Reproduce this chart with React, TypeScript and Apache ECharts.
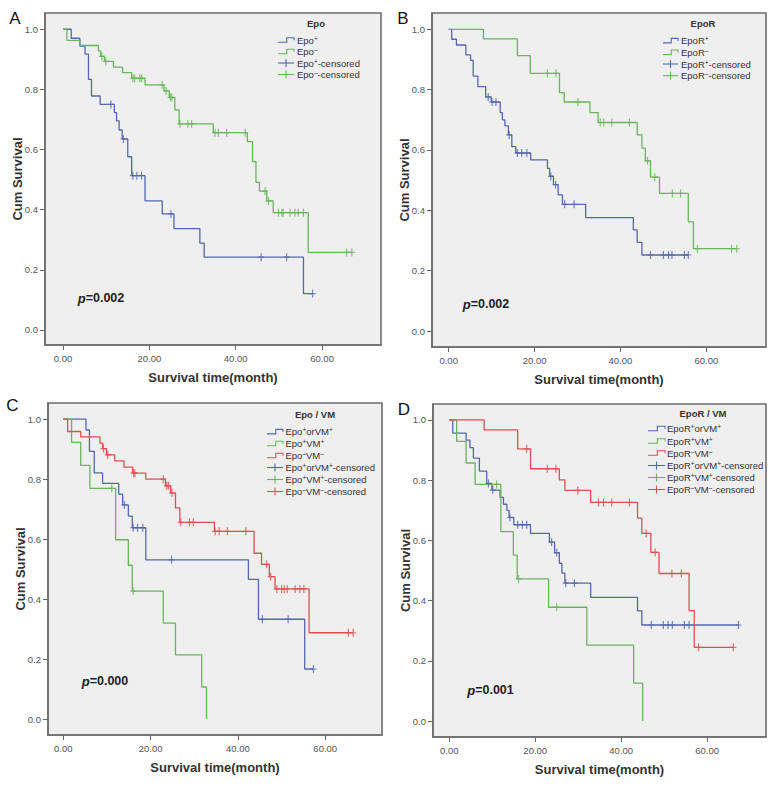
import React, { useEffect, useRef } from "react";
import * as echarts from "echarts";

// ---------- Data ----------
const xTicks = [0, 20, 40, 60];
const yTicks = [0, 0.2, 0.4, 0.6, 0.8, 1.0];

// Panel A
const epoPosTimes = [0, 1.9, 3.9, 5.1, 5.9, 6.6, 8.6, 11.9, 12.4, 13.0, 13.7, 15.0, 15.9, 19.0, 23.0, 25.7, 31.7, 32.7, 55.7];
const epoPosSurv = [1, 0.97, 0.944, 0.917, 0.833, 0.778, 0.75, 0.723, 0.695, 0.665, 0.635, 0.576, 0.513, 0.429, 0.386, 0.337, 0.289, 0.242, 0.121];
const epoPosCens = [11.1, 14.0, 16.2, 17.1, 18.2, 25.0, 45.9, 51.8, 57.8];

const epoNegTimes = [0, 0.9, 3.9, 8.2, 8.7, 9.6, 11.7, 13.8, 15.9, 19.0, 23.4, 24.6, 25.9, 26.9, 34.8, 42.7, 43.9, 44.7, 45.5, 47.2, 48.7, 56.8];
const epoNegSurv = [1, 0.963, 0.946, 0.928, 0.91, 0.893, 0.874, 0.856, 0.837, 0.815, 0.795, 0.773, 0.732, 0.685, 0.656, 0.626, 0.56, 0.491, 0.462, 0.429, 0.39, 0.258];
const epoNegCens = [9.0, 9.9, 16.2, 16.6, 17.8, 18.2, 23.0, 23.9, 24.9, 25.2, 27.1, 28.9, 29.8, 35.2, 36.0, 37.9, 42.2, 46.8, 47.6, 49.9, 50.7, 51.0, 52.6, 53.7, 54.5, 55.7, 65.7, 66.9];

// Panel B
const eporPosTimes = [0, 0.7, 1.8, 4.0, 5.1, 5.7, 6.8, 8.6, 9.9, 12.0, 12.5, 13.1, 13.9, 14.7, 15.6, 19.1, 23.0, 23.5, 24.4, 25.5, 26.5, 31.9, 43.0, 43.9, 45.0];
const eporPosSurv = [1, 0.967, 0.948, 0.915, 0.897, 0.845, 0.81, 0.776, 0.759, 0.724, 0.7, 0.68, 0.65, 0.611, 0.59, 0.567, 0.539, 0.513, 0.485, 0.451, 0.42, 0.376, 0.335, 0.294, 0.252];
const eporPosCens = [9.2, 10.1, 11.0, 14.1, 16.0, 17.0, 18.2, 23.8, 24.9, 27.0, 29.2, 47.0, 50.0, 51.2, 52.0, 54.9, 55.8];

const eporNegTimes = [0, 8.1, 16.0, 19.0, 25.8, 26.9, 32.9, 34.8, 43.9, 45.0, 45.8, 47.0, 49.1, 55.8, 57.0];
const eporNegSurv = [1, 0.968, 0.913, 0.854, 0.79, 0.759, 0.724, 0.691, 0.65, 0.606, 0.564, 0.51, 0.456, 0.362, 0.273];
const eporNegCens = [23.0, 25.0, 30.1, 35.3, 36.1, 38.0, 42.1, 46.3, 48.0, 52.1, 54.0, 57.9, 65.9, 67.1];

// Panel C
const epoOrVmTimes = [0, 5.2, 6.0, 7.1, 9.0, 12.7, 13.6, 14.9, 15.8, 18.9, 42.4, 44.7, 55.3];
const epoOrVmSurv = [1, 0.964, 0.893, 0.821, 0.786, 0.75, 0.714, 0.677, 0.638, 0.531, 0.466, 0.333, 0.167];
const epoOrVmCens = [14.0, 16.0, 17.0, 18.2, 24.8, 45.6, 51.5, 57.3];

const epoVmPosTimes = [0, 1.9, 4.0, 6.1, 12.0, 14.9, 15.8, 22.9, 25.7, 31.7, 32.8];
const epoVmPosSurv = [1, 0.923, 0.846, 0.769, 0.598, 0.513, 0.427, 0.32, 0.214, 0.107, 0];
const epoVmPosCens = [11.1, 16.0];

const epoVmNegTimes = [0, 1.0, 4.0, 8.4, 9.0, 9.9, 11.8, 13.9, 15.9, 18.9, 23.4, 24.6, 25.7, 26.7, 34.6, 43.7, 45.4, 47.2, 48.5, 56.3];
const epoVmNegSurv = [1, 0.959, 0.941, 0.92, 0.902, 0.881, 0.861, 0.84, 0.82, 0.8, 0.778, 0.754, 0.704, 0.656, 0.626, 0.553, 0.516, 0.475, 0.434, 0.288];
const epoVmNegCens = [9.2, 10.2, 16.1, 16.4, 22.9, 23.7, 24.1, 24.9, 26.9, 28.9, 29.8, 34.8, 35.7, 37.6, 41.8, 46.6, 47.5, 48.9, 50.0, 50.6, 51.3, 53.1, 54.2, 55.1, 65.3, 66.4];

// Panel D
const eporOrVmTimes = [0, 0.8, 3.9, 4.8, 5.6, 7.0, 8.7, 9.9, 11.8, 12.6, 13.4, 13.9, 15.0, 18.9, 23.3, 24.5, 25.6, 26.2, 26.9, 32.9, 43.8, 44.8];
const eporOrVmSurv = [1, 0.956, 0.933, 0.908, 0.873, 0.83, 0.789, 0.767, 0.743, 0.72, 0.7, 0.676, 0.652, 0.623, 0.594, 0.559, 0.524, 0.491, 0.458, 0.411, 0.366, 0.319];
const eporOrVmCens = [9.1, 10.1, 14.1, 15.9, 17.0, 18.0, 23.8, 25.0, 27.1, 29.1, 47.0, 49.8, 50.9, 51.9, 54.7, 55.8, 67.3];

const eporVmPosTimes = [0, 1.7, 3.9, 6.0, 12.0, 14.9, 15.8, 23.1, 32.0, 42.9, 45.0];
const eporVmPosSurv = [1, 0.929, 0.857, 0.786, 0.629, 0.551, 0.472, 0.378, 0.252, 0.126, 0];
const eporVmPosCens = [11.0, 16.1, 25.0];

const eporVmNegTimes = [0, 8.1, 15.9, 18.9, 25.6, 26.9, 32.9, 43.8, 44.8, 46.9, 48.8, 55.8, 57.0];
const eporVmNegSurv = [1, 0.967, 0.904, 0.838, 0.801, 0.766, 0.726, 0.674, 0.623, 0.56, 0.49, 0.367, 0.245];
const eporVmNegCens = [18.0, 22.8, 24.8, 29.9, 34.7, 35.9, 37.8, 41.9, 45.8, 47.9, 51.8, 54.0, 58.0, 66.1];

// ---------- Styling ----------
const BLUE = "#5468ad";
const GREEN = "#68b65a";
const RED = "#de5050";
const FONT = "Arial, 'Liberation Sans', sans-serif";

type Curve = { name: string; color: string; times: number[]; surv: number[]; cens: number[] };
type Panel = {
  letter: string; lx: number; ly: number;
  grid: { left: number; top: number; width: number; height: number };
  xr: [number, number]; yr: [number, number];
  p: string; px: number; py: number;
  title: string; tx: number; ty: number;
  ix0: number; ix1: number; textX: number; rows: number[];
  curves: Curve[];
};

const panels: Panel[] = [
  {
    letter: "A", lx: 15, ly: 18.5,
    grid: { left: 45, top: 13, width: 336, height: 332 },
    xr: [-4.17, 73.66], yr: [-0.05, 1.054],
    p: "0.002", px: 101, py: 298,
    title: "Epo", tx: 316, ty: 23,
    ix0: 278, ix1: 294, textX: 297, rows: [40, 51.5, 63, 74.5],
    curves: [
      { name: "Epo^+", color: BLUE, times: epoPosTimes, surv: epoPosSurv, cens: epoPosCens },
      { name: "Epo^-", color: GREEN, times: epoNegTimes, surv: epoNegSurv, cens: epoNegCens },
    ],
  },
  {
    letter: "B", lx: 403, ly: 18,
    grid: { left: 432, top: 13, width: 334, height: 334 },
    xr: [-3.89, 73.9], yr: [-0.053, 1.054],
    p: "0.002", px: 486, py: 304,
    title: "EpoR", tx: 703, ty: 23,
    ix0: 663, ix1: 678, textX: 681, rows: [40.7, 52.3, 64, 75.7],
    curves: [
      { name: "EpoR^+", color: BLUE, times: eporPosTimes, surv: eporPosSurv, cens: eporPosCens },
      { name: "EpoR^-", color: GREEN, times: eporNegTimes, surv: eporNegSurv, cens: eporNegCens },
    ],
  },
  {
    letter: "C", lx: 12.5, ly: 405,
    grid: { left: 48, top: 403, width: 334, height: 332 },
    xr: [-3.5, 73.0], yr: [-0.053, 1.054],
    p: "0.000", px: 105, py: 681,
    title: "Epo / VM", tx: 315, ty: 414,
    ix0: 267, ix1: 283, textX: 285.5, rows: [431.7, 443.5, 455.5, 467.5, 479.5, 491.5],
    curves: [
      { name: "Epo^+orVM^+", color: BLUE, times: epoOrVmTimes, surv: epoOrVmSurv, cens: epoOrVmCens },
      { name: "Epo^+VM^+", color: GREEN, times: epoVmPosTimes, surv: epoVmPosSurv, cens: epoVmPosCens },
      { name: "Epo^-VM^-", color: RED, times: epoVmNegTimes, surv: epoVmNegSurv, cens: epoVmNegCens },
    ],
  },
  {
    letter: "D", lx: 404, ly: 409,
    grid: { left: 433, top: 404, width: 333, height: 333 },
    xr: [-3.8, 73.7], yr: [-0.053, 1.053],
    p: "0.001", px: 490.5, py: 690,
    title: "EpoR / VM", tx: 703, ty: 413,
    ix0: 648, ix1: 665, textX: 667, rows: [428.5, 441, 453, 465.5, 477.5, 489.5],
    curves: [
      { name: "EpoR^+orVM^+", color: BLUE, times: eporOrVmTimes, surv: eporOrVmSurv, cens: eporOrVmCens },
      { name: "EpoR^+VM^+", color: GREEN, times: eporVmPosTimes, surv: eporVmPosSurv, cens: eporVmPosCens },
      { name: "EpoR^-VM^-", color: RED, times: eporVmNegTimes, surv: eporVmNegSurv, cens: eporVmNegCens },
    ],
  },
];

// value of the KM step function at time t
function survAt(c: Curve, t: number) {
  let v = c.surv[0];
  for (let i = 0; i < c.times.length; i++) if (c.times[i] <= t + 1e-9) v = c.surv[i];
  return v;
}
function lineData(c: Curve) {
  const d = c.times.map((t, i) => [t, c.surv[i]]);
  const lastT = c.times[c.times.length - 1];
  const lastC = c.cens.length ? Math.max(...c.cens) : lastT;
  if (lastC > lastT) d.push([lastC, c.surv[c.surv.length - 1]]);
  return d;
}
// "Epo^+" -> rich text with superscripts
function richLabel(s: string) {
  let out = "";
  let buf = "";
  for (let i = 0; i < s.length; i++) {
    if (s[i] === "^" && i + 1 < s.length) {
      if (buf) { out += `{n|${buf}}`; buf = ""; }
      out += `{s|${s[i + 1] === "-" ? "\u2012" : s[i + 1]}}`;
      i++;
    } else buf += s[i];
  }
  if (buf) out += `{n|${buf}}`;
  return out;
}
const plainName = (s: string) => s.replace(/\^\+/g, "\u207A").replace(/\^-/g, "\u207B");

const PLUS = "path://M2.4,0H3.6V3.4H6V4.6H3.6V8H2.4V4.6H0V3.4H2.4Z";

export default function App() {
  const ref = useRef<HTMLDivElement>(null);
  useEffect(() => {
    if (!ref.current) return;
    const chart = echarts.init(ref.current, undefined, { renderer: "svg" });

    const grids: any[] = [];
    const xAxes: any[] = [];
    const yAxes: any[] = [];
    const series: any[] = [];
    const graphics: any[] = [];

    panels.forEach((p, pi) => {
      grids.push({
        ...p.grid, show: true, backgroundColor: "#efefef", borderColor: "#6e6e6e", borderWidth: 1.6,
        containLabel: false, outerBoundsMode: "none",
      });
      xAxes.push({
        type: "value", gridIndex: pi, min: p.xr[0], max: p.xr[1],
        axisLine: { show: true, onZero: false, lineStyle: { color: "#6e6e6e", width: 1.6 } },
        axisTick: { show: true, length: 5, customValues: xTicks, lineStyle: { color: "#666" } },
        axisLabel: { show: true, customValues: xTicks, margin: 8, fontSize: 9.5, color: "#555", fontFamily: FONT,
          formatter: (v: number) => v.toFixed(2) },
        splitLine: { show: false },
        name: "Survival time(month)", nameLocation: "middle", nameGap: 26, nameMoveOverlap: false,
        nameTextStyle: { fontWeight: "bold", fontSize: 13, color: "#333", fontFamily: FONT },
      });
      yAxes.push({
        type: "value", gridIndex: pi, min: p.yr[0], max: p.yr[1],
        axisLine: { show: true, onZero: false, lineStyle: { color: "#6e6e6e", width: 1.6 } },
        axisTick: { show: true, length: 5, customValues: yTicks, lineStyle: { color: "#666" } },
        axisLabel: { show: true, customValues: yTicks, margin: 7, fontSize: 9.5, color: "#555", fontFamily: FONT,
          formatter: (v: number) => v.toFixed(1) },
        splitLine: { show: false },
        name: "Cum Survival", nameLocation: "middle", nameGap: 21, nameMoveOverlap: false,
        nameTextStyle: { fontWeight: "bold", fontSize: 13, color: "#333", fontFamily: FONT },
      });

      p.curves.forEach((c) => {
        series.push({
          type: "line", name: plainName(c.name), xAxisIndex: pi, yAxisIndex: pi, step: "end",
          data: lineData(c), showSymbol: false, symbol: "none",
          lineStyle: { color: c.color, width: 1.3 }, itemStyle: { color: c.color }, z: 3,
        });
      });
      p.curves.forEach((c) => {
        series.push({
          type: "scatter", name: plainName(c.name) + "-censored", xAxisIndex: pi, yAxisIndex: pi,
          data: c.cens.map((t) => [t, survAt(c, t)]),
          symbol: PLUS, symbolSize: [6, 8], symbolKeepAspect: false,
          itemStyle: { color: c.color }, z: 4,
        });
      });

      // panel letter
      graphics.push({
        type: "text", x: p.lx, y: p.ly,
        style: { text: p.letter, fontSize: 17, fontFamily: FONT, fill: "#111", align: "center", verticalAlign: "middle" },
      });
      // p value
      graphics.push({
        type: "text", x: p.px, y: p.py,
        style: {
          text: `{i|p}{b|=${p.p}}`, align: "center", verticalAlign: "middle",
          rich: {
            i: { fontSize: 13, fontStyle: "italic", fontWeight: "bold", fontFamily: FONT, fill: "#222" },
            b: { fontSize: 12.5, fontWeight: "bold", fontFamily: FONT, fill: "#222" },
          },
        },
      });
      // legend title
      graphics.push({
        type: "text", x: p.tx, y: p.ty,
        style: { text: p.title, fontSize: 9.5, fontWeight: "bold", fontFamily: FONT, fill: "#333", align: "center", verticalAlign: "middle" },
      });
      // legend items: curves then censored
      const items = [
        ...p.curves.map((c) => ({ kind: "step", color: c.color, label: c.name })),
        ...p.curves.map((c) => ({ kind: "plus", color: c.color, label: c.name + "-censored" })),
      ];
      items.forEach((it, k) => {
        const y = p.rows[k];
        const x0 = p.ix0, x1 = p.ix1, xm = x0 + (x1 - x0) * 0.55;
        if (it.kind === "step") {
          graphics.push({
            type: "polyline",
            shape: { points: [[x0, y + 2.2], [xm, y + 2.2], [xm, y - 2.3], [x1, y - 2.3], [x1, y + 0.3]] },
            style: { stroke: it.color, lineWidth: 1.1, fill: "none" },
          });
        } else {
          const xc = (x0 + x1) / 2;
          graphics.push({ type: "line", shape: { x1: x0, y1: y, x2: x1, y2: y }, style: { stroke: it.color, lineWidth: 1.1 } });
          graphics.push({ type: "line", shape: { x1: xc, y1: y - 4, x2: xc, y2: y + 4 }, style: { stroke: it.color, lineWidth: 1.1 } });
        }
        graphics.push({
          type: "text", x: p.textX, y,
          style: {
            text: richLabel(it.label), align: "left", verticalAlign: "middle",
            rich: {
              n: { fontSize: 9.5, fontFamily: FONT, fill: "#333", lineHeight: 11 },
              s: { fontSize: 6.5, fontFamily: FONT, fill: "#333", lineHeight: 8, verticalAlign: "top" },
            },
          },
        });
      });
    });

    chart.setOption({
      animation: false,
      backgroundColor: "#ffffff",
      grid: grids,
      xAxis: xAxes,
      yAxis: yAxes,
      series,
      graphic: { elements: graphics },
    });
    return () => chart.dispose();
  }, []);

  return <div ref={ref} style={{ position: "absolute", left: 0, top: 0, width: 773, height: 788 }} />;
}
